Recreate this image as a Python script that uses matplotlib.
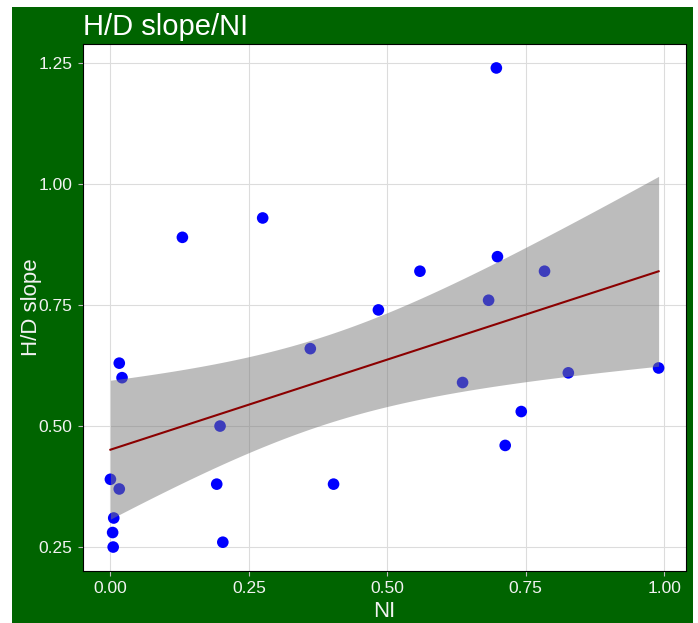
#!/usr/bin/env python3
"""Scatter of H/D slope against NI with a linear fit and its 95% confidence band."""

import matplotlib

matplotlib.use("Agg")
import matplotlib.pyplot as plt
import numpy as np
from matplotlib.patches import Rectangle

# Observations
ni = [0.000, 0.016, 0.021, 0.016, 0.006, 0.004, 0.005, 0.130, 0.192, 0.198,
      0.203, 0.275, 0.361, 0.403, 0.484, 0.559, 0.636, 0.697, 0.699, 0.683,
      0.713, 0.742, 0.784, 0.827, 0.990]
hd_slope = [0.39, 0.63, 0.60, 0.37, 0.31, 0.28, 0.25, 0.89, 0.38, 0.50,
            0.26, 0.93, 0.66, 0.38, 0.74, 0.82, 0.59, 1.24, 0.85, 0.76,
            0.46, 0.53, 0.82, 0.61, 0.62]

x_ticks = [0.00, 0.25, 0.50, 0.75, 1.00]
y_ticks = [0.25, 0.50, 0.75, 1.00, 1.25]

GREEN = "#006400"
TEXT = "#f2f2f2"
T_975_DF23 = 2.0687  # t quantile for a 95% interval with n - 2 = 23 dof


def linear_fit(x, y, n_grid=80):
    x = np.asarray(x, float)
    y = np.asarray(y, float)
    n = len(x)
    slope, intercept = np.polyfit(x, y, 1)
    resid = y - (intercept + slope * x)
    s = np.sqrt(np.sum(resid ** 2) / (n - 2))
    sxx = np.sum((x - x.mean()) ** 2)
    grid = np.linspace(x.min(), x.max(), n_grid)
    fit = intercept + slope * grid
    se = s * np.sqrt(1.0 / n + (grid - x.mean()) ** 2 / sxx)
    return grid, fit, fit - T_975_DF23 * se, fit + T_975_DF23 * se


W, H = 698, 623
fig = plt.figure(figsize=(W / 100, H / 100), dpi=100)
fig.patch.set_facecolor("white")
fig.patches.append(Rectangle((12 / W, 0), (693 - 12) / W, 1 - 7 / H,
                             transform=fig.transFigure, facecolor=GREEN,
                             edgecolor="none", zorder=-10))

ax = fig.add_axes([83 / W, 1 - 571 / H, (686 - 83) / W, (571 - 44) / H])
ax.set_facecolor("white")

ax.scatter(ni, hd_slope, s=70, color="#0000ff", edgecolors="none", zorder=3)

grid, fit, lo, hi = linear_fit(ni, hd_slope)
ax.fill_between(grid, lo, hi, color="#7a7a7a", alpha=0.5, linewidth=0, zorder=4)
ax.plot(grid, fit, color="#8b0000", linewidth=1.5, zorder=5)

ax.set_xlim(-0.0495, 1.0395)
ax.set_ylim(0.2005, 1.2895)
ax.set_xticks(x_ticks)
ax.set_yticks(y_ticks)
ax.set_xticklabels([f"{v:.2f}" for v in x_ticks])
ax.set_yticklabels([f"{v:.2f}" for v in y_ticks])
ax.grid(True, color="#dcdcdc", linewidth=0.8)
ax.set_axisbelow(True)

for spine in ax.spines.values():
    spine.set_color("black")
    spine.set_linewidth(0.8)

ax.tick_params(colors="#bfbfbf", length=3.5, width=0.8, labelsize=12.5,
               labelcolor=TEXT, pad=4)
for lab in ax.get_xticklabels() + ax.get_yticklabels():
    lab.set_family("Liberation Sans")

ax.set_xlabel("NI", fontsize=16, color=TEXT, family="Liberation Sans", labelpad=3)
ax.set_ylabel("H/D slope", fontsize=16, color=TEXT, family="Liberation Sans")
ax.yaxis.set_label_coords(-(83 - 31) / (686 - 83), 0.5)
ax.yaxis.label.set_va("center")

fig.text(83 / W, 1 - 35 / H, "H/D slope/NI", fontsize=21, color="white",
         family="Liberation Sans", ha="left", va="baseline")

fig.savefig("out.png", dpi=100, facecolor=fig.get_facecolor())
